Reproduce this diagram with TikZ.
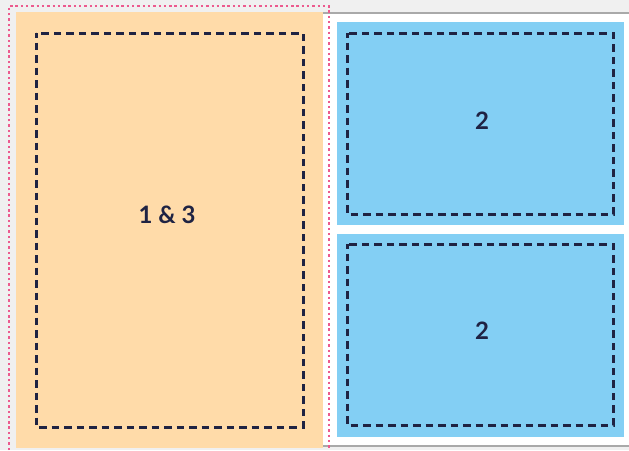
\documentclass[tikz,border=0pt]{standalone}
\usepackage{fontspec}
\setmainfont{Lato}
\definecolor{pagegray}{HTML}{F0F0F0}
\definecolor{rulegray}{HTML}{A9A9A9}
\definecolor{peach}{HTML}{FFDBA9}
\definecolor{sky}{HTML}{83CFF4}
\definecolor{ink}{HTML}{1F2343}
\definecolor{bleedpink}{HTML}{EC5A8E}
\tikzset{
  safe/.style={ink, line width=3pt, dash pattern=on 7.5pt off 5pt, dash phase=3pt},
  bleed/.style={bleedpink, line width=2.8pt, dash pattern=on 2.4pt off 2.9pt},
  lbl/.style={ink, font=\fontsize{24}{24}\selectfont\bfseries, inner sep=0pt}
}
\begin{document}
\begin{tikzpicture}[x=1pt,y=-1pt]
                \useasboundingbox (0,0) rectangle (629,450);
                \fill[pagegray] (0,0) rectangle (629,450);
                
                % Sheet behind the right panels
                \fill[white] (323,14) rectangle (629,445);
                \draw[rulegray, line width=2.4pt] (323,13) -- (629,13);
                \draw[rulegray, line width=2.4pt] (323,446) -- (629,446);
                
                % Panels
                \fill[peach] (16,12) rectangle (323,448);
                \foreach \ytop/\ybot in {22/225, 234/437} {
                    \fill[sky] (337,\ytop) rectangle (624,\ybot);
                }
                
                % Safe areas
                \draw[safe] (36,33) rectangle (303,427);
                \foreach \ytop/\ybot in {33/214, 244/425} {
                    \draw[safe] (347,\ytop) rectangle (613,\ybot);
                }
                
                % Page numbers
                \node[lbl] (front) at (167,215) {1 \& 3};
                \node[lbl] (inner top) at (482,120.5) {2};
                \node[lbl] (inner bottom) at (482,330.5) {2};
                
                % Bleed line
                \draw[bleed] (9,450) -- (9,6) -- (329,6) -- (329,450);
            \end{tikzpicture}
\end{document}
